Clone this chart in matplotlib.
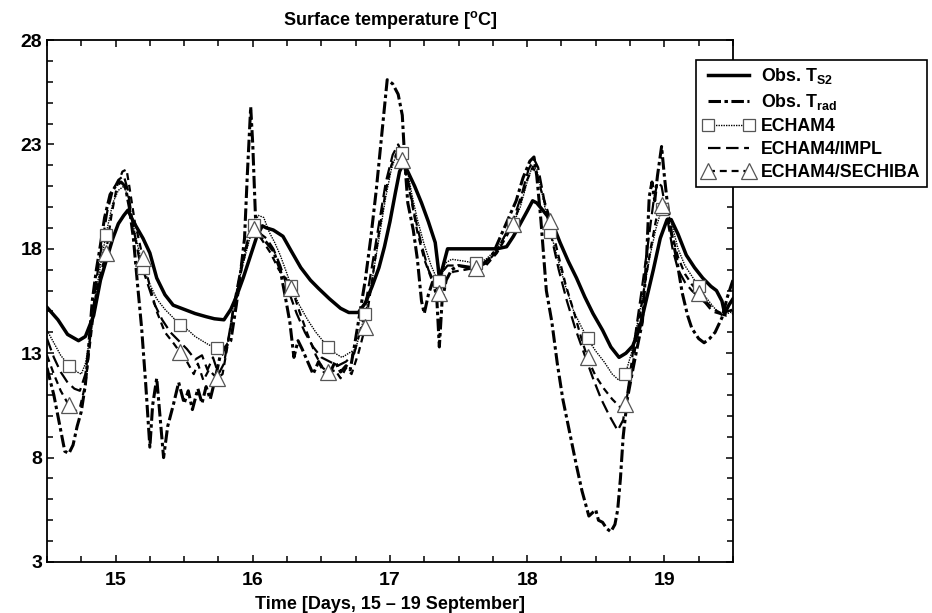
import numpy as np
import matplotlib
matplotlib.use("Agg")
import matplotlib.pyplot as plt
from matplotlib.ticker import MultipleLocator

plt.rcParams['font.family'] = ['Liberation Sans', 'DejaVu Sans']
plt.rcParams['font.weight'] = 'bold'
plt.rcParams['mathtext.fontset'] = 'custom'
plt.rcParams['mathtext.rm'] = 'Liberation Sans:bold'
plt.rcParams['mathtext.bf'] = 'Liberation Sans:bold'
plt.rcParams['lines.scale_dashes'] = False

# Obs. T_S2 (solid)
t_s2 = [14.50, 14.58, 14.65, 14.73, 14.78, 14.84, 14.89, 14.93, 14.98, 15.02, 15.06, 15.09, 15.13, 15.20,
        15.25, 15.30, 15.36, 15.42, 15.50, 15.58, 15.66, 15.72, 15.79, 15.84, 15.88, 15.93, 15.98, 16.03,
        16.07, 16.10, 16.15, 16.22, 16.28, 16.35, 16.42, 16.48, 16.56, 16.64, 16.70, 16.77, 16.82, 16.87,
        16.92, 16.96, 17.00, 17.04, 17.07, 17.10, 17.13, 17.18, 17.23, 17.28, 17.33, 17.35, 17.36, 17.38,
        17.42, 17.50, 17.60, 17.70, 17.78, 17.85, 17.90, 17.95, 18.00, 18.04, 18.07, 18.12, 18.18, 18.24,
        18.30, 18.36, 18.42, 18.48, 18.55, 18.61, 18.67, 18.72, 18.77, 18.82, 18.87, 18.92, 18.97, 19.02,
        19.05, 19.10, 19.16, 19.22, 19.28, 19.34, 19.38, 19.42, 19.44, 19.47, 19.50]
v_s2 = [15.2, 14.6, 13.9, 13.6, 13.8, 14.8, 16.5, 17.4, 18.5, 19.2, 19.6, 19.85, 19.3, 18.5,
        17.8, 16.6, 15.8, 15.3, 15.1, 14.9, 14.75, 14.65, 14.6, 15.1, 15.7, 16.6, 17.6, 18.6,
        19.1, 19.0, 18.9, 18.6, 17.9, 17.1, 16.5, 16.1, 15.6, 15.15, 14.95, 14.95, 15.4, 16.2,
        17.1, 18.1, 19.3, 20.7, 21.7, 22.1, 21.7, 21.0, 20.2, 19.3, 18.3, 17.2, 16.6, 17.0,
        18.0, 18.0, 18.0, 18.0, 18.0, 18.1, 18.6, 19.2, 19.8, 20.3, 20.2, 19.8, 19.3, 18.3,
        17.4, 16.6, 15.7, 14.9, 14.1, 13.3, 12.8, 13.0, 13.35, 14.2, 15.6, 17.0, 18.5, 19.4,
        19.4, 18.7, 17.7, 17.1, 16.6, 16.2, 16.0, 15.5, 14.9, 15.3, 15.6]

# Obs. T_rad (dash-dot)
t_rad = [14.50, 14.55, 14.60, 14.63, 14.66, 14.69, 14.72, 14.75, 14.78, 14.80, 14.83, 14.86, 14.89, 14.92,
         14.96, 15.00, 15.04, 15.07, 15.10, 15.13, 15.16, 15.19, 15.22, 15.25, 15.27, 15.30, 15.33, 15.35,
         15.38, 15.42, 15.46, 15.50, 15.53, 15.56, 15.60, 15.63, 15.66, 15.69, 15.72, 15.76, 15.80, 15.84,
         15.88, 15.91, 15.94, 15.96, 15.985, 16.00, 16.02, 16.05, 16.10, 16.15, 16.20, 16.24, 16.27, 16.30,
         16.33, 16.36, 16.40, 16.44, 16.48, 16.52, 16.56, 16.60, 16.64, 16.68, 16.71, 16.74, 16.78, 16.82,
         16.86, 16.90, 16.93, 16.96, 16.98, 17.02, 17.06, 17.09, 17.11, 17.13, 17.17, 17.20, 17.23, 17.25,
         17.28, 17.31, 17.34, 17.36, 17.38, 17.41, 17.45, 17.50, 17.60, 17.68, 17.74, 17.80, 17.86, 17.92,
         17.97, 18.02, 18.05, 18.07, 18.10, 18.14, 18.18, 18.22, 18.26, 18.31, 18.36, 18.40, 18.45, 18.50,
         18.52, 18.55, 18.58, 18.61, 18.64, 18.66, 18.68, 18.70, 18.73, 18.77, 18.80, 18.84, 18.87, 18.89,
         18.91, 18.93, 18.95, 18.98, 19.00, 19.02, 19.05, 19.09, 19.13, 19.17, 19.20, 19.25, 19.29, 19.33,
         19.37, 19.42, 19.46, 19.50]
v_rad = [12.3, 11.0, 9.3, 8.3, 8.2, 8.6, 9.5, 10.2, 11.5, 13.0, 15.5, 17.0, 18.2, 19.5,
         20.6, 21.0, 21.2, 21.0, 20.0, 18.5, 16.3, 14.2, 11.5, 8.5, 10.5, 11.8, 9.5, 8.0,
         9.5, 10.5, 11.6, 10.6, 11.2, 10.3, 11.3, 10.6, 11.4, 10.8, 11.6, 12.8, 13.3, 13.6,
         15.3, 16.8, 18.5, 21.5, 24.8, 23.0, 19.5, 18.6, 18.3, 17.9, 17.0, 15.6, 14.5, 12.8,
         13.6, 13.2, 12.6, 12.0, 12.6, 12.1, 12.0, 12.6, 12.1, 12.4, 12.2, 13.3, 14.9, 16.5,
         18.5, 20.8, 22.8, 24.8, 26.1, 25.9, 25.4, 24.4, 22.0, 20.2, 18.9, 17.5, 15.5, 14.9,
         15.8, 16.4, 15.8, 13.3, 15.5, 16.5, 17.0, 17.2, 17.1, 17.3, 17.6, 18.5, 19.4, 20.3,
         21.4, 22.2, 22.4, 21.5, 19.4, 16.0, 14.5, 12.5, 10.8, 9.2, 7.6, 6.4, 5.2, 5.5,
         5.0, 4.9, 4.6, 4.45, 4.8, 5.5, 7.0, 9.0, 10.8, 12.2, 13.2, 14.5, 17.5, 20.5,
         21.2, 20.3, 21.5, 22.9, 21.5, 20.3, 18.8, 17.5, 15.9, 14.8, 14.2, 13.7, 13.5, 13.7,
         14.0, 14.7, 15.7, 16.5]

# ECHAM4 (dotted, squares)
t_e4 = [14.50, 14.55, 14.60, 14.66, 14.72, 14.75, 14.78, 14.82, 14.86, 14.90, 14.94, 14.98, 15.02, 15.06,
        15.09, 15.12, 15.16, 15.20, 15.25, 15.30, 15.36, 15.42, 15.47, 15.53, 15.58, 15.63, 15.68, 15.74,
        15.78, 15.82, 15.86, 15.90, 15.95, 16.00, 16.04, 16.08, 16.12, 16.16, 16.20, 16.25, 16.29, 16.34,
        16.40, 16.46, 16.51, 16.55, 16.60, 16.65, 16.70, 16.75, 16.82, 16.87, 16.92, 16.97, 17.01, 17.05,
        17.08, 17.12, 17.16, 17.20, 17.25, 17.30, 17.34, 17.37, 17.40, 17.45, 17.55, 17.63, 17.70, 17.78,
        17.84, 17.90, 17.95, 18.00, 18.04, 18.07, 18.11, 18.16, 18.22, 18.28, 18.34, 18.40, 18.45, 18.50,
        18.56, 18.62, 18.67, 18.72, 18.76, 18.80, 18.85, 18.90, 18.94, 18.98, 19.01, 19.05, 19.10, 19.15,
        19.20, 19.25, 19.30, 19.36, 19.42, 19.46, 19.50]
v_e4 = [14.1, 13.5, 12.9, 12.4, 12.1, 12.0, 12.5, 14.0, 16.0, 17.6, 19.0, 20.2, 20.8, 21.0,
        20.5, 19.4, 18.2, 17.1, 16.3, 15.6, 15.1, 14.7, 14.35, 14.1, 13.8, 13.6, 13.4, 13.25,
        12.9, 13.6, 15.0, 16.5, 17.8, 19.0, 19.6, 19.5, 18.8, 18.3, 17.7, 16.8, 16.0, 15.3,
        14.6, 14.0, 13.6, 13.3, 13.0, 12.8, 13.0, 13.2, 14.9, 16.5, 18.5, 20.5, 21.8, 22.6,
        22.8, 22.0, 20.6, 19.4, 18.2, 17.2, 16.6, 16.4, 17.3, 17.5, 17.4, 17.3, 17.5, 18.0,
        18.6, 19.2, 20.0, 21.2, 22.0, 21.8, 20.6, 19.05, 17.6, 16.2, 15.0, 14.2, 13.6, 13.1,
        12.6, 12.0, 11.7, 12.1, 13.0, 14.3, 16.0, 17.8, 19.0, 19.9, 20.0, 19.3, 18.0, 17.2,
        16.7, 16.2, 15.7, 15.2, 14.8, 14.9, 15.0]

# ECHAM4/IMPL (long dash)
t_impl = [14.50, 14.55, 14.60, 14.65, 14.70, 14.74, 14.78, 14.82, 14.86, 14.90, 14.94, 14.98, 15.02, 15.06,
          15.09, 15.13, 15.17, 15.22, 15.28, 15.34, 15.40, 15.46, 15.52, 15.58, 15.63, 15.67, 15.71, 15.75,
          15.79, 15.83, 15.87, 15.92, 15.97, 16.02, 16.06, 16.10, 16.15, 16.20, 16.26, 16.32, 16.38, 16.44,
          16.50, 16.56, 16.62, 16.68, 16.74, 16.80, 16.86, 16.92, 16.97, 17.02, 17.06, 17.10, 17.14, 17.18,
          17.23, 17.28, 17.33, 17.37, 17.42, 17.50, 17.60, 17.70, 17.78, 17.85, 17.90, 17.96, 18.01, 18.05,
          18.08, 18.12, 18.17, 18.23, 18.29, 18.35, 18.42, 18.48, 18.54, 18.60, 18.66, 18.70, 18.74, 18.78,
          18.83, 18.88, 18.92, 18.95, 18.98, 19.02, 19.06, 19.10, 19.15, 19.20, 19.25, 19.30, 19.35, 19.40,
          19.45, 19.50]
v_impl = [13.7, 12.8, 12.1, 11.6, 11.3, 11.2, 12.0, 14.0, 16.5, 18.2, 19.8, 20.8, 21.3, 21.5,
          20.8, 19.0, 17.6, 16.6, 15.4, 14.6, 14.0, 13.6, 13.2, 12.7, 12.9, 12.2, 12.8, 12.0,
          12.5, 14.0, 15.6, 17.3, 18.6, 19.2, 18.7, 18.5, 18.0, 17.2, 16.0, 14.9, 14.0, 13.3,
          12.8, 12.6, 12.4, 12.6, 13.0, 14.5, 16.8, 19.2, 21.2, 22.5, 23.0, 22.4, 21.0, 19.6,
          18.2, 17.0, 16.3, 16.8, 17.2, 17.2, 17.0, 17.3, 17.9, 18.8, 19.4, 20.6, 21.8, 22.3,
          21.9, 20.5, 18.8, 17.0, 15.5, 14.2, 12.9, 11.8, 10.8, 10.0, 9.3, 9.8, 11.5, 13.5,
          15.8, 18.2, 20.2, 21.2, 21.0, 19.5, 18.0, 17.0, 16.4, 16.0, 15.7, 15.4, 15.0, 14.9,
          14.8, 14.9]

# ECHAM4/SECHIBA (dashed, triangles)
t_sech = [14.50, 14.55, 14.60, 14.66, 14.70, 14.74, 14.78, 14.82, 14.86, 14.93, 14.97, 15.01, 15.05, 15.08,
          15.10, 15.14, 15.20, 15.25, 15.30, 15.36, 15.42, 15.47, 15.52, 15.57, 15.60, 15.64, 15.68, 15.74,
          15.78, 15.82, 15.86, 15.91, 15.96, 16.00, 16.04, 16.08, 16.13, 16.19, 16.24, 16.29, 16.34, 16.40,
          16.46, 16.51, 16.56, 16.60, 16.64, 16.68, 16.72, 16.77, 16.82, 16.87, 16.92, 16.97, 17.01, 17.05,
          17.08, 17.12, 17.16, 17.20, 17.25, 17.30, 17.36, 17.40, 17.46, 17.55, 17.63, 17.70, 17.78, 17.85,
          17.90, 17.95, 18.00, 18.04, 18.07, 18.11, 18.16, 18.22, 18.28, 18.34, 18.40, 18.45, 18.50, 18.56,
          18.62, 18.68, 18.72, 18.76, 18.80, 18.85, 18.90, 18.94, 18.98, 19.02, 19.06, 19.10, 19.15, 19.20,
          19.25, 19.30, 19.36, 19.42, 19.46, 19.50]
v_sech = [12.9, 12.0, 11.2, 10.5, 10.2, 10.4, 11.5, 13.8, 16.0, 17.8, 19.6, 21.0, 21.7, 21.8,
          21.0, 19.3, 17.55, 16.2, 15.0, 14.0, 13.5, 13.05, 12.6, 12.0, 12.5, 11.7, 12.2, 11.8,
          12.0, 13.5, 15.2, 16.8, 18.2, 19.05, 18.7, 18.3, 17.8, 17.0, 16.6, 16.0, 15.0, 13.9,
          12.9, 12.3, 12.05, 12.2, 11.8, 12.3, 12.0, 13.0, 14.25, 16.5, 18.8, 20.8, 22.0, 22.6,
          22.5, 21.5, 20.2, 18.8, 17.5, 16.6, 15.9, 16.5, 16.9, 17.0, 17.1, 17.2, 17.8, 18.6,
          19.2, 20.2, 21.3, 21.9, 21.6, 20.6, 19.6, 17.9, 16.3, 15.0, 13.6, 12.6, 11.9, 11.3,
          10.8, 10.4, 10.65, 12.0, 13.8, 16.0, 18.0, 19.4, 20.1, 19.6, 18.6, 17.6, 16.8, 16.3,
          15.9, 15.5, 15.1, 14.9, 15.0, 15.1]

# model output markers every ~6.5 h
t_mark = np.arange(14.66, 19.4, 0.27)

fig = plt.figure(figsize=(9.32, 6.13), dpi=100)
ax = fig.add_axes([0.0504, 0.0832, 0.736, 0.8515])

ax.plot(t_s2, v_s2, color='black', lw=2.5, label=r'Obs. T$_{\mathbf{S2}}$')
ax.plot(t_rad, v_rad, color='black', lw=2.2, dashes=(9, 2.5, 2.5, 2.5), label=r'Obs. T$_{\mathbf{rad}}$')
ax.plot(t_e4, v_e4, color='black', lw=1.0, dashes=(1, 0.8))
ax.plot(t_impl, v_impl, color='black', lw=1.6, dashes=(9, 4), label='ECHAM4/IMPL')
ax.plot(t_sech, v_sech, color='black', lw=1.6, dashes=(5, 3.5))

mk = dict(ms=9, mfc='white', mec='#555555', mew=0.9, ls='none', zorder=5)
ax.plot(t_mark, np.interp(t_mark, t_e4, v_e4), marker='s', **mk)
ax.plot(t_mark, np.interp(t_mark, t_sech, v_sech), marker='^', **dict(mk, ms=11))

# legend proxies for marker lines
h_e4, = ax.plot([], [], color='black', lw=1.0, dashes=(1, 0.8), marker='s', ms=9,
                mfc='white', mec='#555555', mew=0.9, label='ECHAM4')
h_sech, = ax.plot([], [], color='black', lw=1.6, dashes=(5, 3.5), marker='^', ms=11,
                  mfc='white', mec='#555555', mew=0.9, label='ECHAM4/SECHIBA')
handles, labels = ax.get_legend_handles_labels()
order = [labels.index(l) for l in [r'Obs. T$_{\mathbf{S2}}$', r'Obs. T$_{\mathbf{rad}}$', 'ECHAM4',
                                   'ECHAM4/IMPL', 'ECHAM4/SECHIBA']]
leg = fig.legend([handles[i] for i in order], [labels[i] for i in order],
                 loc='upper left', bbox_to_anchor=(0.747, 0.902), borderaxespad=0, numpoints=2,
                 handlelength=2.9, handletextpad=0.4, labelspacing=0.33, borderpad=0.35,
                 fancybox=False, framealpha=1, edgecolor='black', fontsize=12.8)
leg.get_frame().set_linewidth(1.2)
leg.set_zorder(10)

ax.set_xlim(14.5, 19.5)
ax.set_ylim(3, 28)
ax.set_xticks([15, 16, 17, 18, 19])
ax.xaxis.set_minor_locator(MultipleLocator(0.25))
ax.set_yticks([3, 8, 13, 18, 23, 28])
ax.yaxis.set_minor_locator(MultipleLocator(1))
ax.tick_params(which='both', direction='in', top=True, right=True, labelsize=14, width=1.1)
ax.tick_params(which='major', length=5)
ax.tick_params(which='minor', length=4)
ax.tick_params(axis='x', pad=7)
for lbl in ax.get_xticklabels() + ax.get_yticklabels():
    lbl.set_fontweight('bold')
for s in ax.spines.values():
    s.set_linewidth(1.3)

ax.set_title(r'Surface temperature [$^{\mathbf{o}}$C]', fontsize=13, fontweight='bold', pad=11)
ax.set_xlabel('Time [Days, 15 \u2013 19 September]', fontsize=13, fontweight='bold', labelpad=5)

fig.savefig('out.png', dpi=100)
